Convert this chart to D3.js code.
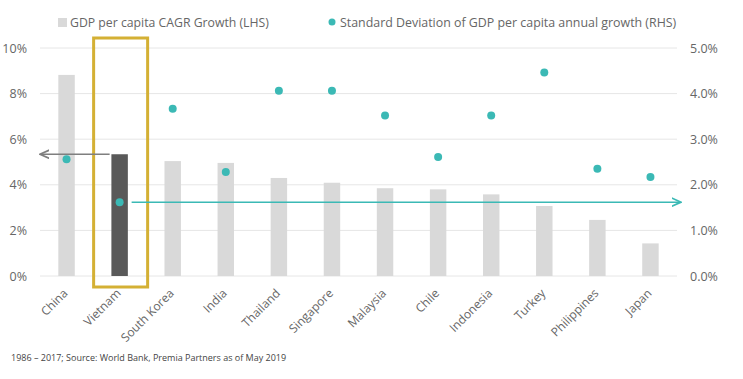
<!DOCTYPE html>
<html><head><meta charset="utf-8">
<script src="https://cdn.jsdelivr.net/npm/d3@7"></script>
<style>body{margin:0;background:#fff}svg{display:block}text{font-family:"Open Sans",sans-serif}</style>
</head><body>
<svg id="c" width="743" height="379"></svg>
<script>
const categories = ["China","Vietnam","South Korea","India","Thailand","Singapore","Malaysia","Chile","Indonesia","Turkey","Philippines","Japan"];
const cagr = [8.82,5.34,5.04,4.96,4.30,4.09,3.85,3.80,3.58,3.07,2.46,1.43];
const stdev = [2.56,1.62,3.67,2.28,4.06,4.06,3.52,2.61,3.52,4.46,2.35,2.17];
const leftTicks = [0,2,4,6,8,10];
const rightTicks = [0,1,2,3,4,5];
const highlight = "Vietnam";
const legendLabels = ["GDP per capita CAGR Growth (LHS)","Standard Deviation of GDP per capita annual growth (RHS)"];
const footnote = "1986 \u2013 2017; Source: World Bank, Premia Partners as of May 2019";

const svg = d3.select("#c");
const x = d3.scaleBand().domain(categories).range([40,677]).paddingInner(0.69).paddingOuter(0.345);
const yL = d3.scaleLinear().domain([0,10]).range([276,48]);
const yR = d3.scaleLinear().domain([0,5]).range([276,48]);
const grey = "#d9d9d9", dark = "#595959", teal = "#3bb9b5", gold = "#d4b034", txt = "#666";

// gridlines
svg.append("g").selectAll("line").data(leftTicks).join("line")
  .attr("x1",40).attr("x2",677).attr("y1",d=>yL(d)).attr("y2",d=>yL(d))
  .attr("stroke","#e6e6e6").attr("stroke-width",1);

// left axis
const la = svg.append("g").attr("transform","translate(40,0)")
  .call(d3.axisLeft(yL).tickValues(leftTicks).tickFormat(d=>d+"%").tickSize(0).tickPadding(13));
la.select(".domain").remove();
la.selectAll("text").attr("fill",txt).style("font-size","12.5px");
// right axis
const ra = svg.append("g").attr("transform","translate(677,0)")
  .call(d3.axisRight(yR).tickValues(rightTicks).tickFormat(d=>d3.format(".1f")(d)+"%").tickSize(0).tickPadding(13));
ra.select(".domain").remove();
ra.selectAll("text").attr("fill",txt).style("font-size","12.5px");

// bars
svg.append("g").selectAll("rect").data(categories).join("rect")
  .attr("x",d=>x(d)).attr("width",x.bandwidth())
  .attr("y",(d,i)=>yL(cagr[i])).attr("height",(d,i)=>yL(0)-yL(cagr[i]))
  .attr("fill",d=>d===highlight?dark:grey);

// highlight box
const hx = x(highlight)+x.bandwidth()/2;
svg.append("rect").attr("x",hx-26).attr("y",38).attr("width",54).attr("height",249)
  .attr("fill","none").attr("stroke",gold).attr("stroke-width",3);

// arrows
const defs = svg.append("defs");
function marker(id,color){
  defs.append("marker").attr("id",id).attr("viewBox","0 0 10 10").attr("refX",8).attr("refY",5)
    .attr("markerWidth",7).attr("markerHeight",7).attr("orient","auto")
    .append("path").attr("d","M0,1 L9,5 L0,9").attr("fill","none").attr("stroke",color).attr("stroke-width",1.6);
}
marker("ag","#7f7f7f"); marker("at",teal);
const hi = categories.indexOf(highlight);
svg.append("line").attr("x1",hx-10).attr("x2",41).attr("y1",yL(cagr[hi])).attr("y2",yL(cagr[hi]))
  .attr("stroke","#7f7f7f").attr("stroke-width",1.5).attr("marker-end","url(#ag)");
svg.append("line").attr("x1",hx+12).attr("x2",680).attr("y1",yR(stdev[hi])).attr("y2",yR(stdev[hi]))
  .attr("stroke",teal).attr("stroke-width",1.5).attr("marker-end","url(#at)");

// dots
svg.append("g").selectAll("circle").data(categories).join("circle")
  .attr("cx",d=>x(d)+x.bandwidth()/2).attr("cy",(d,i)=>yR(stdev[i])).attr("r",4)
  .attr("fill",teal);

// x labels
svg.append("g").selectAll("text").data(categories).join("text")
  .attr("transform",d=>`translate(${x(d)+x.bandwidth()/2+2},294) rotate(-45)`)
  .attr("text-anchor","end").attr("fill",txt).style("font-size","12px").text(d=>d);

// legend
svg.append("rect").attr("x",58).attr("y",18).attr("width",9).attr("height",9).attr("fill",grey);
svg.append("text").attr("x",70).attr("y",27).attr("fill",txt).style("font-size","12.25px").text(legendLabels[0]);
svg.append("circle").attr("cx",332).attr("cy",22).attr("r",3.5).attr("fill",teal);
svg.append("text").attr("x",340).attr("y",27).attr("fill",txt).style("font-size","12.4px").text(legendLabels[1]);

// footnote
svg.append("text").attr("x",11).attr("y",361).attr("fill","#444").style("font-size","9px").text(footnote);
</script>
</body></html>
